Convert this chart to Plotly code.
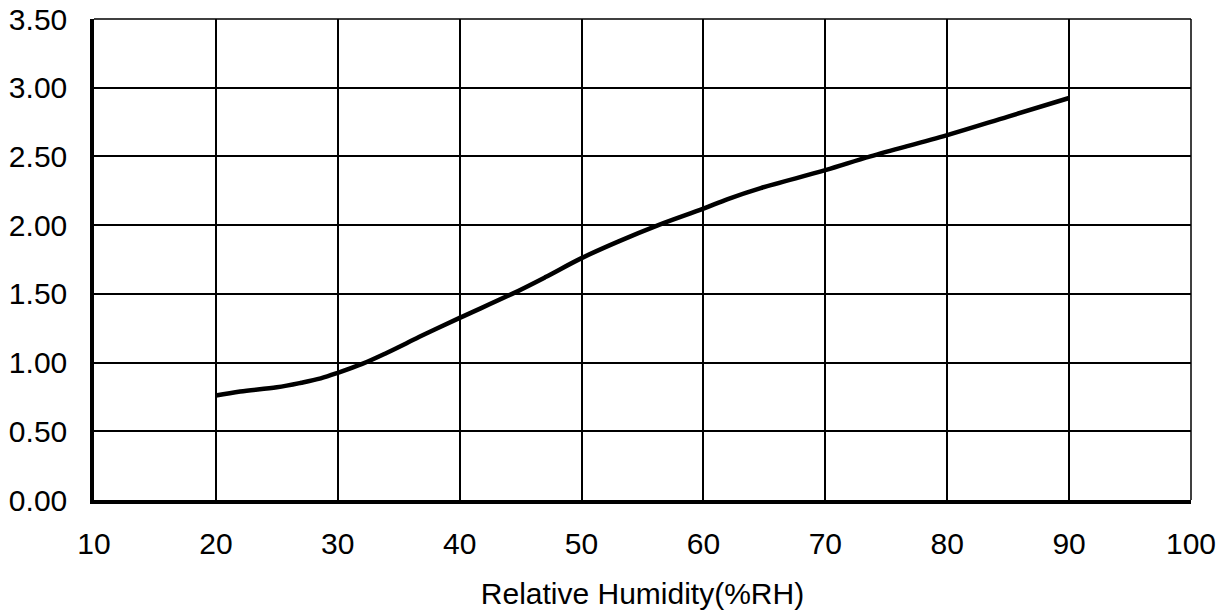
import plotly.graph_objects as go

humidity = [20, 22, 25, 27, 28.6, 30, 32, 34, 37, 40, 44.3, 47, 50, 53, 56.3, 60, 62, 64.7, 70, 73.7, 80, 85, 90]
value = [0.76, 0.79, 0.82, 0.853, 0.885, 0.925, 0.99, 1.07, 1.20, 1.325, 1.50, 1.62, 1.76, 1.88, 2.00, 2.12, 2.19, 2.27, 2.40, 2.50, 2.655, 2.79, 2.925]

x_ticks = [10, 20, 30, 40, 50, 60, 70, 80, 90, 100]
y_ticks = [0, 0.5, 1.0, 1.5, 2.0, 2.5, 3.0, 3.5]
x_title = "Relative Humidity(%RH)"

fig = go.Figure()
fig.add_trace(go.Scatter(x=humidity, y=value, mode="lines",
                         line=dict(color="black", width=4.5, shape="spline", smoothing=1.0),
                         showlegend=False, hoverinfo="skip"))

font = dict(family="Liberation Sans, Arial, sans-serif", size=30, color="#000")
fig.update_layout(
    width=1228, height=610,
    margin=dict(l=94, r=37, t=19, b=110),
    paper_bgcolor="white", plot_bgcolor="white",
    font=font,
    xaxis=dict(range=[10, 100], tickvals=x_ticks, ticktext=[str(v) for v in x_ticks],
               showgrid=True, gridcolor="black", gridwidth=1.5,
               showline=True, linecolor="black", linewidth=3.5,
               ticks="", ticklabelstandoff=14, zeroline=False, automargin=False,
               title=dict(text=x_title, font=font, standoff=36)),
    yaxis=dict(range=[0, 3.5], tickvals=y_ticks, tickformat=".2f",
               showgrid=True, gridcolor="black", gridwidth=1.5,
               showline=True, linecolor="black", linewidth=3.5,
               ticks="", ticklabelstandoff=17, zeroline=False, automargin=False),
    shapes=[dict(type="line", xref="paper", yref="paper", x0=0, x1=1, y0=1, y1=1,
                 line=dict(color="black", width=1.5)),
            dict(type="line", xref="paper", yref="paper", x0=1, x1=1, y0=0, y1=1,
                 line=dict(color="black", width=1.5))],
)
fig.write_html("out.html", config={"displayModeBar": False},
               post_script="document.body.style.margin='0';")
